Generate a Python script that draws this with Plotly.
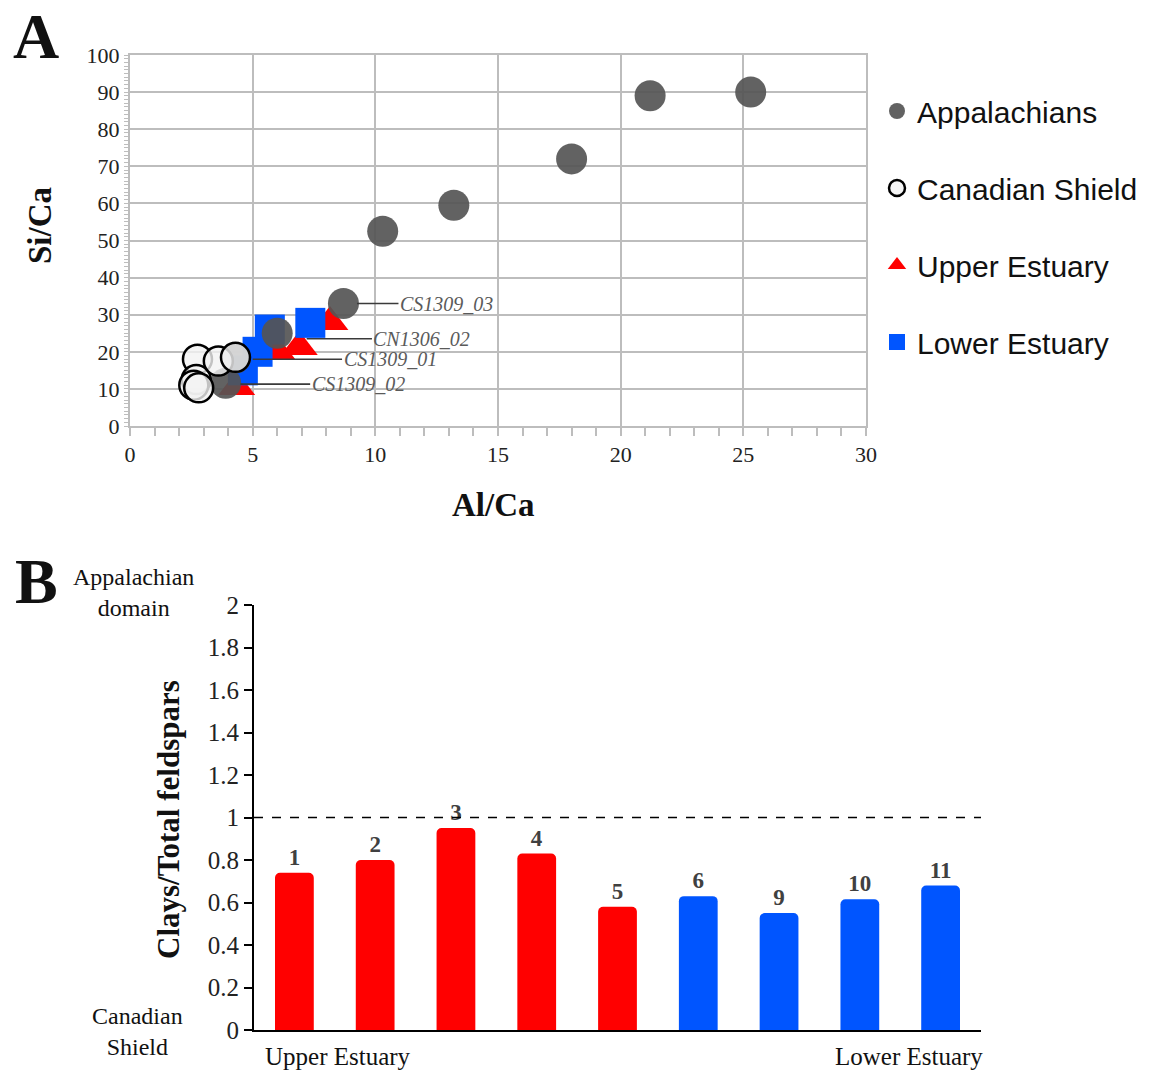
import plotly.graph_objects as go

W, H = 1167, 1072

# ---------------- Panel A data ----------------
app_x = [25.3, 21.2, 18.0, 13.2, 10.3, 8.7, 6.0, 4.3, 3.9]
app_y = [90.0, 89.0, 72.0, 59.5, 52.5, 33.0, 25.0, 18.3, 11.5]
can_x = [2.75, 2.7, 2.6, 2.8, 3.6, 4.3]
can_y = [18.0, 12.5, 11.0, 10.3, 17.5, 18.5]
up_x = [8.15, 6.9, 6.0, 4.35]
up_y = [28.0, 21.3, 20.0, 10.5]
lo_x = [7.35, 5.7, 5.2, 4.6]
lo_y = [27.8, 26.0, 20.0, 15.0]

lab_names = ["CS1309_03", "CN1306_02", "CS1309_01", "CS1309_02"]
lab_px = [9.25, 7.2, 5.0, 4.5]      # leader line start (data units)
lab_y = [33.0, 23.5, 18.0, 11.3]
lab_tx = [12.9, 11.9, 10.6, 9.3]    # label centre

# ---------------- Panel B data ----------------
bar_labels = ["1", "2", "3", "4", "5", "6", "9", "10", "11"]
bar_values = [0.74, 0.80, 0.95, 0.83, 0.58, 0.63, 0.55, 0.615, 0.68]
bar_group = ["Upper", "Upper", "Upper", "Upper", "Upper", "Lower", "Lower", "Lower", "Lower"]

RED = "#ff0000"
BLUE = "#0055ff"
GRAY = "#555555"
SERIF = "Liberation Serif"
SANS = "Liberation Sans"

def px(x):
    return x / W

def py(y):
    return 1 - y / H

fig = go.Figure()

# order of drawing: Upper, Lower, Appalachians, Canadian
fig.add_trace(go.Scatter(x=up_x, y=up_y, mode="markers", name="Upper Estuary",
                         legendgroup="c", legendrank=3,
                         marker=dict(symbol="triangle-up", size=32, color=RED),
                         xaxis="x", yaxis="y"))
fig.add_trace(go.Scatter(x=lo_x, y=lo_y, mode="markers", name="Lower Estuary",
                         legendgroup="d", legendrank=4,
                         marker=dict(symbol="square", size=30, color=BLUE),
                         xaxis="x", yaxis="y"))
fig.add_trace(go.Scatter(x=app_x, y=app_y, mode="markers", name="Appalachians",
                         legendgroup="a", legendrank=1,
                         marker=dict(symbol="circle", size=31, color=GRAY, opacity=0.92),
                         xaxis="x", yaxis="y"))
fig.add_trace(go.Scatter(x=can_x, y=can_y, mode="markers", name="Canadian Shield",
                         legendgroup="b", legendrank=2,
                         marker=dict(symbol="circle", size=29, color="rgba(242,242,242,0.8)",
                                     line=dict(color="black", width=2.5)),
                         xaxis="x", yaxis="y"))

bar_colors = [RED if g == "Upper" else BLUE for g in bar_group]
fig.add_trace(go.Bar(x=list(range(len(bar_values))), y=bar_values, text=bar_labels,
                     textposition="outside", cliponaxis=False,
                     textfont=dict(family=SERIF, size=23, color="#404040", weight="bold"),
                     marker=dict(color=bar_colors, cornerradius=5, line=dict(width=0)),
                     width=0.48, showlegend=False, xaxis="x2", yaxis="y2"))

annotations = []
for name, x0, y0, tx in zip(lab_names, lab_px, lab_y, lab_tx):
    annotations.append(dict(x=x0, y=y0, xref="x", yref="y", ax=tx, ay=y0,
                            axref="x", ayref="y", text=name, showarrow=True,
                            arrowhead=0, arrowwidth=1.6, arrowcolor="#3a3a3a", standoff=0,
                            font=dict(family=SERIF, size=20, color="#5a5a5a", style="italic")))

def ann(text, x, y, size, angle=0, weight="normal", align="center"):
    annotations.append(dict(x=px(x), y=py(y), xref="paper", yref="paper", text=text,
                            showarrow=False, textangle=angle, align=align,
                            xanchor="center", yanchor="middle",
                            font=dict(family=SERIF, size=size, color="#111111", weight=weight)))

ann("A", 36, 36, 64, weight="bold")
ann("B", 36, 581, 64, weight="bold")
ann("Si/Ca", 40, 226, 33, angle=-90, weight="bold")
ann("Al/Ca", 493, 505, 33, weight="bold")
ann("Clays/Total feldspars", 168, 820, 31, angle=-90, weight="bold")
ann("Appalachian<br>domain", 133, 593, 24)
ann("Canadian<br>Shield", 137, 1031, 24)
ann("Upper Estuary", 338, 1056, 25)
ann("Lower Estuary", 909, 1056, 25)

shapes = [dict(type="line", xref="x2 domain", yref="y2", x0=0, x1=1, y0=1, y1=1,
               line=dict(color="black", width=1.6, dash="dash"))]

grid = "#bdbdbd"
fig.update_layout(
    width=W, height=H,
    margin=dict(l=0, r=0, t=0, b=0, autoexpand=False),
    paper_bgcolor="white", plot_bgcolor="white",
    showlegend=True,
    legend=dict(x=px(877), y=py(85), xanchor="left", yanchor="top",
                font=dict(family=SANS, size=30, color="#111111"),
                tracegroupgap=35, itemwidth=30, bgcolor="rgba(0,0,0,0)"),
    xaxis=dict(domain=[px(130), px(866)], range=[0, 30], dtick=5, showgrid=True,
               gridcolor=grid, gridwidth=2, showline=True, linecolor=grid, linewidth=2,
               mirror=True, ticks="outside", ticklen=8, tickcolor=grid, tickwidth=1.5,
               minor=dict(dtick=1, ticks="outside", ticklen=8, tickcolor=grid, showgrid=False),
               tickfont=dict(family=SERIF, size=22, color="#222222"), zeroline=False,
               automargin=False, anchor="y"),
    yaxis=dict(domain=[py(426), py(55)], range=[0, 100], dtick=10, showgrid=True,
               gridcolor=grid, gridwidth=2, showline=True, linecolor=grid, linewidth=2,
               mirror=True, ticks="outside", ticklen=4, tickcolor=grid,
               minor=dict(dtick=1, ticks="outside", ticklen=4, tickcolor=grid, showgrid=False),
               tickfont=dict(family=SERIF, size=22, color="#222222"), zeroline=False,
               automargin=False, anchor="x"),
    xaxis2=dict(domain=[px(254), px(981)], range=[-0.5, 8.5], showgrid=False,
                showticklabels=False, ticks="", showline=True, linecolor="black",
                linewidth=2, zeroline=False, automargin=False, anchor="y2"),
    yaxis2=dict(domain=[py(1030), py(605)], range=[0, 2], dtick=0.2, showgrid=False,
                showline=True, linecolor="black", linewidth=2, ticks="outside", ticklen=8,
                tickcolor="black", tickwidth=2, zeroline=False,
                tickfont=dict(family=SERIF, size=25, color="#222222"),
                automargin=False, anchor="x2"),
    bargap=0.5,
    annotations=annotations,
    shapes=shapes,
)

fig.write_html("out.html")
